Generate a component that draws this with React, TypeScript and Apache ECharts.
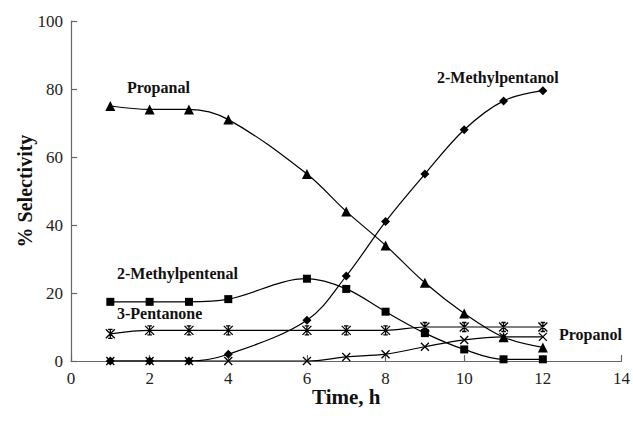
import React, { useEffect, useRef } from "react";
import * as echarts from "echarts";

const times = [1, 2, 3, 4, 6, 7, 8, 9, 10, 11, 12];
const propanal = [75, 74, 74, 71, 55, 44, 34, 23, 14, 7, 4];
const methylpentanol = [0, 0, 0, 2, 12, 25, 41, 55, 68, 76.5, 79.5];
const methylpentenal = [17.4, 17.4, 17.4, 18.2, 24.2, 21.2, 14.5, 8.2, 3.4, 0.5, 0.5];
const pentanone = [8, 9, 9, 9, 9, 9, 9, 10, 10, 10, 10];
const propanol = [0, 0, 0, 0, 0, 1.2, 2, 4.2, 6.2, 7.1, 7.1];

const FONT = "Liberation Serif";

const ASTERISK = "path://M5,0L5,10M0,0L10,10M0,10L10,0M2.5,0L7.5,0M2.5,10L7.5,10";
const CROSS = "path://M0,0L10,10M0,10L10,0";

function mk(name: string, vals: number[], symbol: string, size: number, stroked = false) {
  return {
    name,
    type: "line",
    data: times.map((t, i) => [t, vals[i]]),
    smooth: 0.35,
    symbol,
    symbolSize: size,
    showSymbol: true,
    lineStyle: { color: "#000", width: 1.2 },
    itemStyle: stroked
      ? { color: "rgba(0,0,0,0)", borderColor: "#000", borderWidth: 1.3 }
      : { color: "#000", borderWidth: 0 },
    z: stroked ? 3 : 4,
  };
}

export default function App() {
  const ref = useRef<HTMLDivElement>(null);
  useEffect(() => {
    if (!ref.current) return;
    const chart = echarts.init(ref.current, undefined, { renderer: "svg" });
    const lbl = (text: string, x: number, y: number, align = "left") => ({
      type: "text",
      x,
      y,
      style: {
        text,
        fontFamily: FONT,
        fontWeight: "bold",
        fontSize: 16,
        fill: "#111",
        align,
        verticalAlign: "middle",
      },
    });
    chart.setOption({
      animation: false,
      backgroundColor: "#fff",
      grid: { left: 71, right: 10, top: 21, bottom: 61 },
      xAxis: {
        type: "value",
        min: 0,
        max: 14,
        interval: 2,
        name: "Time, h",
        nameLocation: "middle",
        nameGap: 25,
        nameMoveOverlap: false,
        nameTextStyle: { fontFamily: FONT, fontWeight: "bold", fontSize: 21, color: "#111" },
        axisLine: { lineStyle: { color: "#666", width: 1.2 } },
        axisTick: { show: true, inside: true, length: 6, lineStyle: { color: "#666", width: 1.2 } },
        axisLabel: { fontFamily: FONT, fontSize: 17, color: "#222", margin: 9 },
        splitLine: { show: false },
      },
      yAxis: {
        type: "value",
        min: 0,
        max: 100,
        interval: 20,
        name: "% Selectivity",
        nameLocation: "middle",
        nameGap: 36,
        nameMoveOverlap: false,
        nameTextStyle: { fontFamily: FONT, fontWeight: "bold", fontSize: 20, color: "#111" },
        axisLine: { show: true, lineStyle: { color: "#666", width: 1.2 } },
        axisTick: { show: true, inside: true, length: 6, lineStyle: { color: "#666", width: 1.2 } },
        axisLabel: { fontFamily: FONT, fontSize: 17, color: "#222", margin: 8 },
        splitLine: { show: false },
      },
      series: [
        mk("Propanal", propanal, "triangle", 10),
        mk("2-Methylpentanol", methylpentanol, "diamond", 9),
        mk("2-Methylpentenal", methylpentenal, "rect", 8),
        mk("3-Pentanone", pentanone, ASTERISK, 9, true),
        mk("Propanol", propanol, CROSS, 8, true),
      ],
      graphic: [
        lbl("Propanal", 127, 87),
        lbl("2-Methylpentanol", 437, 77),
        lbl("2-Methylpentenal", 117, 273),
        lbl("3-Pentanone", 117, 313),
        lbl("Propanol", 559, 334),
      ],
    });
    return () => chart.dispose();
  }, []);
  return <div ref={ref} style={{ width: 633, height: 422, position: "absolute", left: 0, top: 0 }} />;
}
